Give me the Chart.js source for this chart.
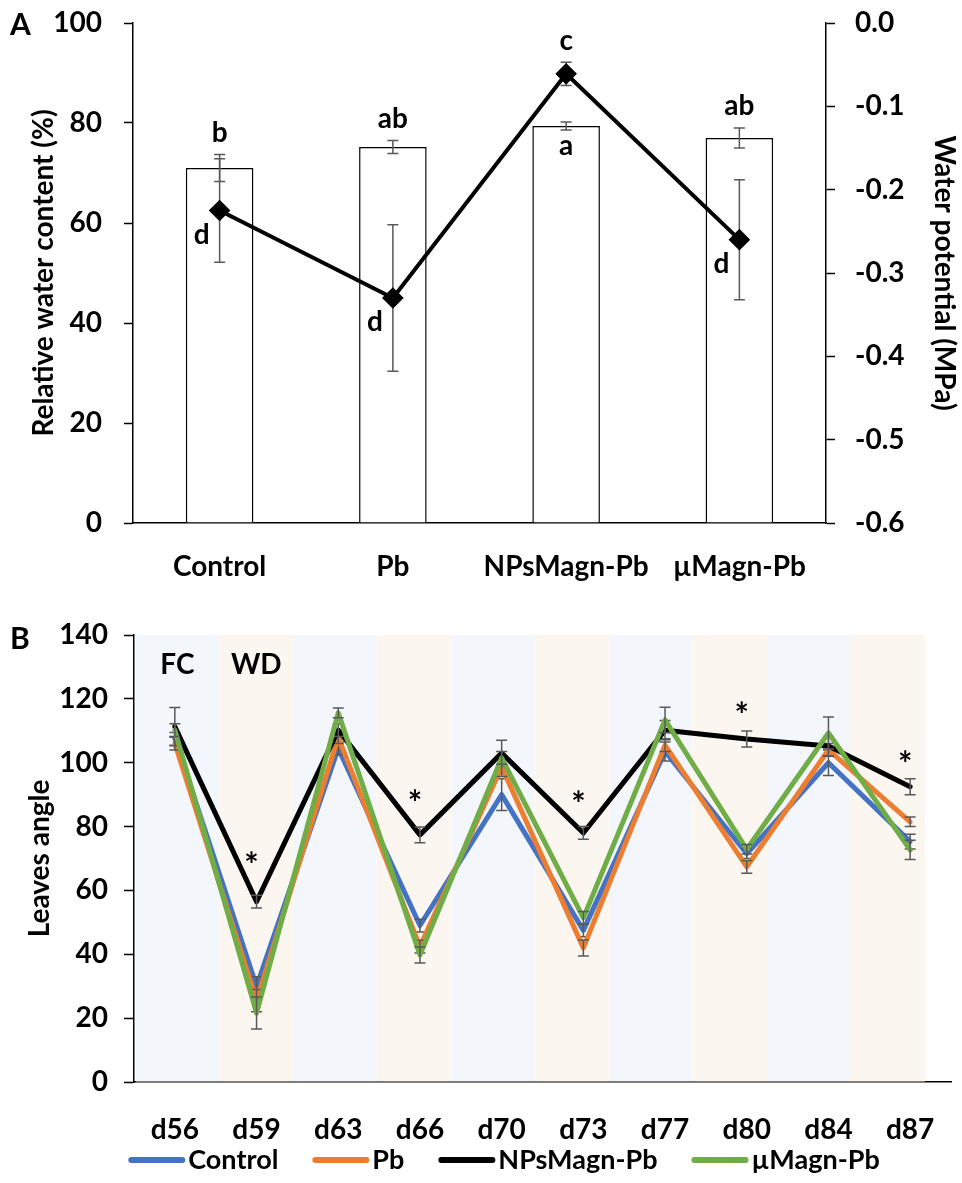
<!DOCTYPE html>
<html>
<head>
<meta charset="utf-8">
<script src="https://cdn.jsdelivr.net/npm/chart.js@4.4.0/dist/chart.umd.min.js"></script>
<style>
  body { margin: 0; background: #fff; }
  #wrap { position: relative; width: 962px; height: 1183px; font-family: Lato, sans-serif; }
  .box { position: absolute; left: 0; width: 962px; }
  #boxA { top: 0; height: 600px; }
  #boxB { top: 600px; height: 583px; }
  .panel { position: absolute; left: 10px; font: bold 30px/30px Lato, sans-serif; color: #000; }
</style>
</head>
<body>
<div id="wrap">
  <div class="box" id="boxA"><canvas id="chartA"></canvas></div>
  <div class="box" id="boxB"><canvas id="chartB"></canvas></div>
  <div class="panel" style="top:8px">A</div>
  <div class="panel" style="top:622px">B</div>
</div>
<script>
// --- Panel A data ---
const TREATMENTS = ['Control', 'Pb', 'NPsMagn-Pb', 'µMagn-Pb'];
const RWC = [71, 75.2, 79.4, 77];
const RWC_ERR = [2.7, 1.3, 0.8, 2];
const WP = [-0.225, -0.33, -0.061, -0.26];
const WP_ERR = [0.062, 0.088, 0.014, 0.072];
const RWC_LETTERS = ['b', 'ab', 'a', 'ab'];
const WP_LETTERS = ['d', 'd', 'c', 'd'];

// --- Panel B data ---
const DAYS = ['d56', 'd59', 'd63', 'd66', 'd70', 'd73', 'd77', 'd80', 'd84', 'd87'];
const PHASES = ['FC', 'WD', 'FC', 'WD', 'FC', 'WD', 'FC', 'WD', 'FC', 'WD'];
const CONTROL = [107.5, 30, 104.5, 49, 90, 47.5, 103.5, 71.5, 100, 75.3];
const CONTROL_ERR = [2, 3, 2, 2, 5, 2, 3, 1.5, 4, 2.3];
const PB = [106, 25.5, 108, 42.4, 98.7, 42, 105.5, 67.4, 104, 81.5];
const PB_ERR = [2, 3.5, 2, 2, 3, 2.5, 2, 2, 2, 1.5];
const NPS = [111.3, 56.5, 110.2, 77.4, 103, 78, 110.2, 107.4, 105.2, 92.5];
const NPS_ERR = [6, 2, 2, 2.5, 4, 2, 3, 2.5, 3, 2.5];
const MICRO = [110.2, 21.6, 115.6, 39.8, 101.5, 51.4, 113.4, 72.9, 109.3, 72.7];
const MICRO_ERR = [2, 5, 1.5, 2.5, 2, 2, 4, 1.5, 5, 3];
const STARS = [null, 70.5, null, 90, null, 89.5, null, 117.3, null, 102.2];
const PHASE_LABEL_AT = 130.6;

Chart.defaults.font.family = 'Lato, sans-serif';
Chart.defaults.font.weight = 'bold';
Chart.defaults.font.size = 28;
Chart.defaults.color = '#000';
Chart.defaults.animation = false;

const FONT = { family: 'Lato, sans-serif', size: 28, weight: 'bold' };

// fixed axis sizes; drop the label overhang padding so the plot area stays put
const fixWidth = w => s => { s.width = w; s.paddingTop = 0; s.paddingBottom = 0; };
const fixHeight = h => s => { s.height = h; s.paddingLeft = 0; s.paddingRight = 0; };

// error bars, drawn right after (or before) their own dataset
function drawErrors(chart, index, below) {
    const ds = chart.data.datasets[index];
    if (!ds.errors || !!ds.errorsBelow !== below) return;
    const meta = chart.getDatasetMeta(index);
    const scale = chart.scales[meta.yAxisID];
    const ctx = chart.ctx;
    ctx.save();
    ctx.strokeStyle = '#595959';
    ctx.lineWidth = 1.5;
    meta.data.forEach((el, j) => {
        const v = ds.data[j], e = ds.errors[j];
        if (v == null || !e) return;
        const top = scale.getPixelForValue(v + e);
        const bot = scale.getPixelForValue(v - e);
        ctx.beginPath();
        ctx.moveTo(el.x, top); ctx.lineTo(el.x, bot);
        ctx.moveTo(el.x - 5.5, top); ctx.lineTo(el.x + 5.5, top);
        ctx.moveTo(el.x - 5.5, bot); ctx.lineTo(el.x + 5.5, bot);
        ctx.stroke();
    });
    ctx.restore();
}
const errorBars = {
    id: 'errorBars',
    beforeDatasetDraw(chart, args) { drawErrors(chart, args.index, true); },
    afterDatasetDraw(chart, args) { drawErrors(chart, args.index, false); }
};

// significance letters for panel A
const lettersA = {
    id: 'lettersA',
    afterDatasetsDraw(chart) {
        const { ctx, scales: { y, y2 } } = chart;
        const bars = chart.getDatasetMeta(0).data;
        const pts = chart.getDatasetMeta(1).data;
        ctx.save();
        ctx.font = 'bold 28px Lato, sans-serif';
        ctx.fillStyle = '#000';
        ctx.textAlign = 'center';
        ctx.textBaseline = 'middle';
        TREATMENTS.forEach((t, i) => {
            const barTop = y.getPixelForValue(RWC[i]);
            const barCap = y.getPixelForValue(RWC[i] + RWC_ERR[i]);
            const ptCap = y2.getPixelForValue(WP[i] + WP_ERR[i]);
            if (pts[i].y < barTop) {
                ctx.fillText(RWC_LETTERS[i], bars[i].x, barTop + 20);
                ctx.fillText(WP_LETTERS[i], pts[i].x, ptCap - 21);
            } else {
                ctx.fillText(RWC_LETTERS[i], bars[i].x, barCap - 22);
                ctx.fillText(WP_LETTERS[i], pts[i].x - 18, pts[i].y + 24);
            }
        });
        ctx.restore();
    }
};

// asterisks and FC / WD labels for panel B
const marksB = {
    id: 'marksB',
    afterDatasetsDraw(chart) {
        const { ctx, scales: { x, xb, y } } = chart;
        ctx.save();
        ctx.fillStyle = '#000';
        ctx.textAlign = 'center';
        ctx.textBaseline = 'middle';
        ctx.font = 'bold 28px Lato, sans-serif';
        PHASES.slice(0, 2).forEach((p, i) => {
            ctx.fillText(p, xb.getPixelForValue(i + 0.5), y.getPixelForValue(PHASE_LABEL_AT));
        });
        ctx.font = 'bold 34px Lato, sans-serif';
        STARS.forEach((v, i) => {
            if (v != null) ctx.fillText('*', x.getPixelForValue(i) - 5, y.getPixelForValue(v) + 9);
        });
        ctx.restore();
    }
};

// one-row legend under panel B: line swatch + label
const legendRow = {
    id: 'legendRow',
    afterDraw(chart) {
        const ctx = chart.ctx;
        const items = chart.data.datasets.filter(d => d.label);
        const sw = 57, gap = 3, space = 34;
        ctx.save();
        ctx.font = 'bold 27px Lato, sans-serif';
        const widths = items.map(d => sw + gap + ctx.measureText(d.label).width);
        const total = widths.reduce((a, b) => a + b, 0) + space * (items.length - 1);
        let x = 504 - total / 2;
        const y = chart.height - 23;
        ctx.textBaseline = 'middle';
        ctx.lineCap = 'round';
        ctx.lineWidth = 6;
        items.forEach((d, i) => {
            ctx.strokeStyle = d.borderColor;
            ctx.beginPath();
            ctx.moveTo(x + 3, y);
            ctx.lineTo(x + sw - 3, y);
            ctx.stroke();
            ctx.fillStyle = '#000';
            ctx.fillText(d.label, x + sw + gap, y);
            x += widths[i] + space;
        });
        ctx.restore();
    }
};

const axisTicks = { drawOnChartArea: false, tickLength: 9, tickColor: '#000', tickWidth: 1.5 };
const axisBorder = { color: '#000', width: 1.5 };

// --- A: relative water content + water potential ---
new Chart(document.getElementById('chartA'), {
    data: {
        labels: TREATMENTS,
        datasets: [{
            type: 'bar',
            data: RWC,
            errors: RWC_ERR,
            yAxisID: 'y',
            backgroundColor: '#fff',
            borderColor: '#000',
            borderWidth: 1.5,
            barPercentage: 0.39,
            categoryPercentage: 1,
            order: 2
        }, {
            type: 'line',
            data: WP,
            errors: WP_ERR,
            errorsBelow: true,
            yAxisID: 'y2',
            borderColor: '#000',
            borderWidth: 4,
            pointStyle: 'rectRot',
            pointRadius: 8,
            pointBackgroundColor: '#000',
            pointBorderColor: '#000',
            order: 1
        }]
    },
    options: {
        responsive: true,
        maintainAspectRatio: false,
        layout: { autoPadding: false, padding: { top: 23, left: 0, right: 0, bottom: 0 } },
        plugins: { legend: { display: false }, tooltip: { enabled: false } },
        scales: {
            x: {
                grid: { display: false },
                border: axisBorder,
                ticks: { font: FONT, padding: 19 },
                afterFit: fixHeight(77)
            },
            y: {
                position: 'left',
                min: 0, max: 100,
                ticks: { stepSize: 20, font: FONT, padding: 22 },
                grid: axisTicks,
                border: axisBorder,
                title: { display: true, text: 'Relative water content (%)', font: FONT, padding: { top: 27, bottom: 0 } },
                afterFit: fixWidth(133)
            },
            y2: {
                position: 'right',
                min: -0.6, max: 0,
                ticks: { stepSize: 0.1, font: FONT, padding: 20, callback: v => v.toFixed(1) },
                grid: axisTicks,
                border: axisBorder,
                title: { display: true, text: 'Water potential (MPa)', font: FONT, padding: { top: 1, bottom: 0 } },
                afterFit: fixWidth(136)
            }
        }
    },
    plugins: [errorBars, lettersA]
});

// --- B: leaves angle ---
const bandData = phase => PHASES.map((p, i) => p === phase ? { x: i + 0.5, y: 140 } : null).filter(Boolean);
const line = (label, data, errors, color, order) => ({
    type: 'line', label, data, errors, order,
    xAxisID: 'x', yAxisID: 'y',
    borderColor: color, backgroundColor: color,
    borderWidth: 5, pointRadius: 0, tension: 0,
    borderJoinStyle: 'round', borderCapStyle: 'round'
});

new Chart(document.getElementById('chartB'), {
    data: {
        labels: DAYS,
        datasets: [{
            type: 'bar', data: bandData('FC'), xAxisID: 'xb', yAxisID: 'y',
            backgroundColor: '#F3F7FB', barPercentage: 1.05, categoryPercentage: 1, grouped: false, order: 10
        }, {
            type: 'bar', data: bandData('WD'), xAxisID: 'xb', yAxisID: 'y',
            backgroundColor: '#FBF6F0', barPercentage: 0.95, categoryPercentage: 1, grouped: false, order: 9
        },
            line('Control', CONTROL, CONTROL_ERR, '#4472C4', 4),
            line('Pb', PB, PB_ERR, '#ED7D31', 3),
            line('NPsMagn-Pb', NPS, NPS_ERR, '#000000', 2),
            line('µMagn-Pb', MICRO, MICRO_ERR, '#70AD47', 1)
        ]
    },
    options: {
        responsive: true,
        maintainAspectRatio: false,
        layout: { autoPadding: false, padding: { top: 35, left: 0, right: 11, bottom: 0 } },
        plugins: { tooltip: { enabled: false }, legend: { display: false } },
        scales: {
            x: {
                offset: true,
                grid: { display: false },
                border: axisBorder,
                ticks: { font: FONT, padding: 23 },
                afterFit: fixHeight(101)
            },
            xb: { type: 'linear', display: false, offset: false, min: -0.05, max: 10.305 },
            y: {
                min: 0, max: 140,
                ticks: { stepSize: 20, font: FONT, padding: 16 },
                grid: { ...axisTicks, tickLength: 10 },
                border: axisBorder,
                title: { display: true, text: 'Leaves angle', font: FONT, padding: { top: 23, bottom: 0 } },
                afterFit: fixWidth(134)
            }
        }
    },
    plugins: [errorBars, marksB, legendRow]
});
</script>
</body>
</html>
